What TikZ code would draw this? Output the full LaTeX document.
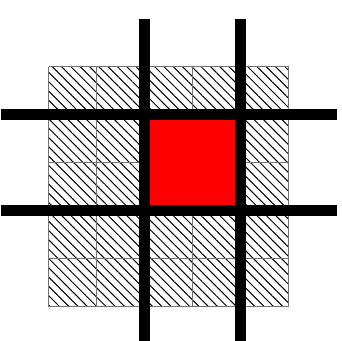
\documentclass[tikz,border=0pt]{standalone}
\usetikzlibrary{patterns.meta}
\begin{document}
\begin{tikzpicture}[
  gridline/.style={draw=black!55, line width=0.65pt},
  hatch/.style={pattern={Lines[angle=-45,distance=3.9pt,line width=0.6pt]}},
  thickbar/.style={line width=6.8pt, draw=black},
  redsq/.style={fill=red, draw=none}]
\useasboundingbox (-1.0146,-0.694) rectangle (6.110,6.390);
\path[hatch] (0,0) rectangle (5,5);
\draw[gridline] (0,0) grid (5,5);
\path[redsq] (2,2) rectangle (4,4);
\coordinate (v1t) at (2,6); \coordinate (v1b) at (2,-0.75);
\coordinate (v2t) at (4,6); \coordinate (v2b) at (4,-0.75);
\coordinate (h1l) at (-1,4); \coordinate (h1r) at (6,4);
\coordinate (h2l) at (-1,2); \coordinate (h2r) at (6,2);
\draw[thickbar] (v1t) -- (v1b);
\draw[thickbar] (v2t) -- (v2b);
\draw[thickbar] (h1l) -- (h1r);
\draw[thickbar] (h2l) -- (h2r);
\end{tikzpicture}
\end{document}
